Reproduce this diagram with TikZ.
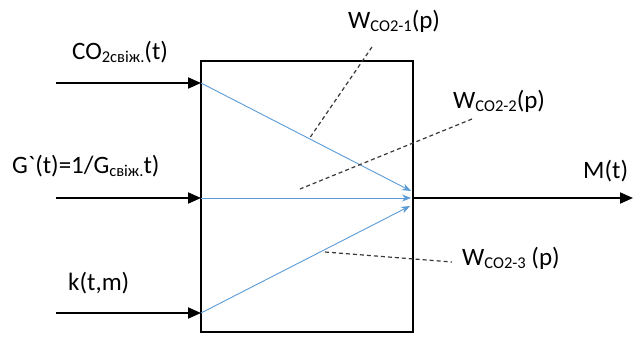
\documentclass[tikz,border=0pt]{standalone}
\usepackage{fontspec}
\newfontfamily\plainf{Carlito}
\usetikzlibrary{arrows.meta}
\definecolor{arrowblue}{HTML}{5B9BD5}
\definecolor{dashgray}{HTML}{383838}
\newcommand{\lowtxt}[1]{\raisebox{-3pt}{\fontsize{16.5}{16.5}\selectfont #1}}
\begin{document}
\begin{tikzpicture}[x=1pt,y=-1pt,
  lbl/.style={font=\plainf\fontsize{25}{25}\selectfont, inner sep=0pt, anchor=base west},
  blk/.style={line width=1.9pt, -{Triangle[length=13pt,width=11pt]}},
  blu/.style={line width=0.9pt, arrowblue, -{Stealth[length=9pt,width=7pt]}},
  dsh/.style={line width=1.2pt, dashgray, dash pattern=on 4pt off 3pt}]
\useasboundingbox (0,0) rectangle (633,338);
\node[draw, line width=1.9pt, minimum width=212pt, minimum height=271pt, anchor=north west, outer sep=0pt, inner sep=0pt] (box) at (201,61) {};
% input / output coordinates
\coordinate (s1) at (56,83);
\coordinate (s2) at (56,198);
\coordinate (s3) at (56,313);
\coordinate (e1) at (201,83);
\coordinate (e2) at (201,198);
\coordinate (e3) at (201,313);
\coordinate (o1) at (413,198);
\coordinate (o2) at (633,198);
\coordinate (t1) at (411,191);
\coordinate (t2) at (411,198);
\coordinate (t3) at (410,206);
% dashed ends
\coordinate (d1a) at (372,47);
\coordinate (d1b) at (309,139);
\coordinate (d2a) at (472,119);
\coordinate (d2b) at (300,189);
\coordinate (d3a) at (325,252);
\coordinate (d3b) at (452,262);
% arrows
\draw[blk] (s1) -- (e1);
\draw[blk] (s2) -- (e2);
\draw[blk] (s3) -- (e3);
\draw[blk] (o1) -- (o2);
\draw[blu] (e1) -- (t1);
\draw[blu] (e2) -- (t2);
\draw[blu] (e3) -- (t3);
\draw[dsh] (d1a) -- (d1b);
\draw[dsh] (d2a) -- (d2b);
\draw[dsh] (d3a) -- (d3b);
% labels
\node[lbl] (l1) at (72,59) {CO\lowtxt{2свіж.}(t)};
\node[lbl] (l2) at (12,173) {G`(t)=1/G\lowtxt{свіж.}t)};
\node[lbl] (l3) at (68,290) {k(t,m)};
\node[lbl] (w1) at (348,28) {W\lowtxt{CO2-1}(p)};
\node[lbl] (w2) at (453,108) {W\lowtxt{CO2-2}(p)};
\node[lbl] (w3) at (462,265) {W\lowtxt{CO2-3} (p)};
\node[lbl] (m) at (583,178) {M(t)};
\end{tikzpicture}
\end{document}
